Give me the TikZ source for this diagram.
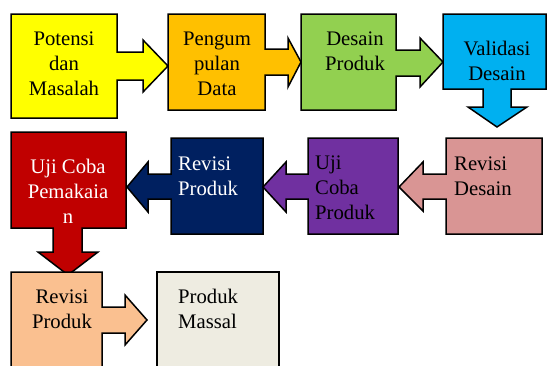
\documentclass[tikz,border=0pt]{standalone}
\usepackage{fontspec}
\setmainfont{Liberation Serif}
\begin{document}
\begin{tikzpicture}[x=1pt,y=-1pt,
  shapebox/.style={draw=black,line width=1.5pt,line join=miter},
  lbl/.style={inner sep=0pt,anchor=base,align=center,font=\fontsize{20.7}{25}\selectfont},
  lbll/.style={inner sep=0pt,anchor=base west,align=left,font=\fontsize{20.7}{25}\selectfont}]
\definecolor{cyel}{HTML}{FFFF00}
\definecolor{corg}{HTML}{FFC000}
\definecolor{cgrn}{HTML}{92D050}
\definecolor{cblu}{HTML}{00B0F0}
\definecolor{cred}{HTML}{C00000}
\definecolor{cnav}{HTML}{002060}
\definecolor{cpur}{HTML}{7030A0}
\definecolor{cpnk}{HTML}{D99594}
\definecolor{cpch}{HTML}{FAC090}
\definecolor{cgry}{HTML}{EEECE1}
\useasboundingbox (0,0) rectangle (547,365);
\clip (0,0) rectangle (547,365);
% Row 1
\path[shapebox,fill=cyel] (11,14) -- (117,14) -- (117,52) -- (143,52) -- (143,40) -- (168,66) -- (143,92) -- (143,80) -- (117,80) -- (117,118) -- (11,118) -- cycle;
\path[shapebox,fill=corg] (168,14) -- (265,14) -- (265,49) -- (288,49) -- (288,38) -- (301,62) -- (288,87) -- (288,75) -- (265,75) -- (265,110) -- (168,110) -- cycle;
\path[shapebox,fill=cgrn] (301,14) -- (396,14) -- (396,50) -- (420,50) -- (420,38) -- (443,62) -- (420,87) -- (420,76) -- (396,76) -- (396,110) -- (301,110) -- cycle;
\path[shapebox,fill=cblu] (443,14) -- (546,14) -- (546,89) -- (511,89) -- (511,107) -- (527,107) -- (497,127) -- (468,107) -- (483,107) -- (483,89) -- (443,89) -- cycle;
% Row 2
\path[shapebox,fill=cred] (11,132) -- (126,132) -- (126,228) -- (82,228) -- (82,252) -- (98,252) -- (68,275) -- (38,252) -- (53,252) -- (53,228) -- (11,228) -- cycle;
\path[shapebox,fill=cnav] (171,138) -- (263,138) -- (263,234) -- (171,234) -- (171,199) -- (148,199) -- (148,212) -- (127,187) -- (148,162) -- (148,174) -- (171,174) -- cycle;
\path[shapebox,fill=cpur] (308,138) -- (398,138) -- (398,234) -- (308,234) -- (308,199) -- (286,199) -- (286,212) -- (263,187) -- (286,162) -- (286,174) -- (308,174) -- cycle;
\path[shapebox,fill=cpnk] (446,138) -- (542,138) -- (542,234) -- (446,234) -- (446,199) -- (423,199) -- (423,211) -- (399,187) -- (423,162) -- (423,174) -- (446,174) -- cycle;
% Row 3
\path[shapebox,fill=cpch] (11,272) -- (102,272) -- (102,307) -- (125,307) -- (125,295) -- (147,320) -- (125,345) -- (125,333) -- (102,333) -- (102,375) -- (11,375) -- cycle;
\path[shapebox,fill=cgry] (157,272) rectangle (279,375);
% Labels (anchor = baseline of last line)
\node[lbl] (t1) at (64,95) {Potensi\\dan\\Masalah};
\node[lbl] (t2) at (217,95) {Pengum\\pulan\\Data};
\node[lbl] (t3) at (355,70) {Desain\\Produk};
\node[lbl] (t4) at (497,80) {Validasi\\Desain};
\node[lbl,text=white] (t5) at (68,223) {Uji Coba\\Pemakaia\\n};
\node[lbll,text=white] (t6) at (178,195) {Revisi\\Produk};
\node[lbll] (t7) at (315,219) {Uji\\Coba\\Produk};
\node[lbll] (t8) at (454,195) {Revisi\\Desain};
\node[lbl] (t9) at (62,328) {Revisi\\Produk};
\node[lbll] (t10) at (178,328) {Produk\\Massal};
\end{tikzpicture}
\end{document}
